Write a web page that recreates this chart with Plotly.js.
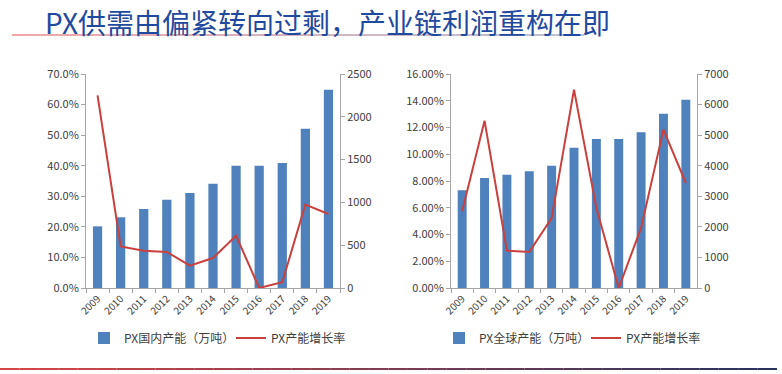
<!DOCTYPE html>
<html>
<head>
<meta charset="utf-8">
<script src="https://cdn.plot.ly/plotly-3.0.1.min.js"></script>
<style>
html,body{margin:0;padding:0;background:#fff;}
#chart{width:782px;height:374px;}
</style>
</head>
<body>
<div id="chart"></div>
<script>
// ---- data ----
const years = ['2009','2010','2011','2012','2013','2014','2015','2016','2017','2018','2019'];
const chinaCapacity = [720, 826, 923, 1032, 1110, 1219, 1429, 1429, 1460, 1861, 2317];
const chinaGrowth = [0.630, 0.136, 0.122, 0.118, 0.073, 0.098, 0.171, 0.000, 0.019, 0.273, 0.242];
const globalCapacity = [3195, 3598, 3707, 3816, 4002, 4590, 4874, 4874, 5092, 5703, 6160];
const globalGrowth = [0.0573, 0.1251, 0.0279, 0.0269, 0.0523, 0.1483, 0.0598, 0.0000, 0.0449, 0.1184, 0.0785];
const titleText = 'PX供需由偏紧转向过剩，产业链利润重构在即';
const nameChinaCap = 'PX国内产能（万吨）';
const nameGlobalCap = 'PX全球产能（万吨）';
const nameGrowth = 'PX产能增长率';

// ---- styles ----
const W = 782, H = 374;
const BAR = '#4f81bd', LINE = '#c9403d';
const AX = '#a6a6a6', TXT = '#404040';
const FONT = 'Noto Sans CJK SC, Noto Sans, sans-serif';
const px = v => v / W, py = v => (H - v) / H;

const traces = [
  {type:'bar', x:years, y:chinaCapacity, name:nameChinaCap, xaxis:'x', yaxis:'y', marker:{color:BAR}, legend:'legend'},
  {type:'scatter', mode:'lines', x:years, y:chinaGrowth, name:nameGrowth, xaxis:'x', yaxis:'y2', line:{color:LINE, width:2}, legend:'legend'},
  {type:'bar', x:years, y:globalCapacity, name:nameGlobalCap, xaxis:'x2', yaxis:'y3', marker:{color:BAR}, legend:'legend2'},
  {type:'scatter', mode:'lines', x:years, y:globalGrowth, name:nameGrowth, xaxis:'x2', yaxis:'y4', line:{color:LINE, width:2}, legend:'legend2'}
];

const yDom = [py(288), py(74)];
const tickF = {family:FONT, size:11, color:TXT};
const xCommon = {type:'category', tickangle:-45, ticks:'outside', tickson:'boundaries', ticklen:4, tickcolor:AX,
  showline:true, linecolor:AX, linewidth:1, showgrid:false, zeroline:false, tickfont:{family:FONT, size:10, color:TXT}, fixedrange:true};
const yCommon = {ticks:'outside', ticklen:4, tickcolor:AX, showline:true, linecolor:AX, linewidth:1, showgrid:false,
  zeroline:false, tickfont:tickF, fixedrange:true};

// gradient lines made of segments
function gradLine(x0, x1, y, c0, c1, w, n) {
  const out = [];
  for (let i = 0; i < n; i++) {
    const t = i / (n - 1);
    const c = c0.map((v, k) => Math.round(v + (c1[k] - v) * t));
    out.push({type:'line', xref:'paper', yref:'paper',
      x0: px(x0 + (x1 - x0) * i / n), x1: px(x0 + (x1 - x0) * (i + 1) / n),
      y0: py(y), y1: py(y), line:{color:`rgb(${c[0]},${c[1]},${c[2]})`, width:w}});
  }
  return out;
}
const shapes = [].concat(
  gradLine(12, 584, 35, [228,80,80], [120,130,170], 1, 40),
  gradLine(0, 777, 369, [215,70,70], [40,50,95], 2, 40)
);

const legBase = {orientation:'h', xanchor:'left', y:py(338), yanchor:'middle', font:{family:FONT, size:12, color:TXT},
  bgcolor:'rgba(0,0,0,0)', itemwidth:30, traceorder:'normal', entrywidth:102, entrywidthmode:'pixels'};

const layout = {
  width:W, height:H, margin:{l:0, r:0, t:0, b:0},
  paper_bgcolor:'#fff', plot_bgcolor:'rgba(0,0,0,0)',
  font:{family:FONT, color:TXT},
  barmode:'group', bargap:0.6,
  xaxis: Object.assign({}, xCommon, {domain:[px(86), px(340)], anchor:'y'}),
  yaxis: Object.assign({}, yCommon, {domain:yDom, anchor:'x', side:'right', range:[0,2500], dtick:500, tickformat:'d'}),
  yaxis2: Object.assign({}, yCommon, {overlaying:'y', anchor:'x', side:'left', range:[0,0.7], dtick:0.1, tickformat:'.1%'}),
  xaxis2: Object.assign({}, xCommon, {domain:[px(451), px(697)], anchor:'y3'}),
  yaxis3: Object.assign({}, yCommon, {domain:yDom, anchor:'x2', side:'right', range:[0,7000], dtick:1000, tickformat:'d'}),
  yaxis4: Object.assign({}, yCommon, {overlaying:'y3', anchor:'x2', side:'left', range:[0,0.16], dtick:0.02, tickformat:'.2%'}),
  showlegend:true,
  legend: Object.assign({}, legBase, {x:px(84)}),
  legend2: Object.assign({}, legBase, {x:px(439)}),
  shapes: shapes,
  annotations:[{text:titleText, xref:'paper', yref:'paper', x:px(44), y:py(1), xanchor:'left', yanchor:'top',
    borderpad:0, showarrow:false, font:{family:'Noto Sans CJK SC, sans-serif', size:28, color:'#1f4aa0'}}]
};

Plotly.newPlot('chart', traces, layout, {displayModeBar:false, staticPlot:true});
</script>
</body>
</html>
